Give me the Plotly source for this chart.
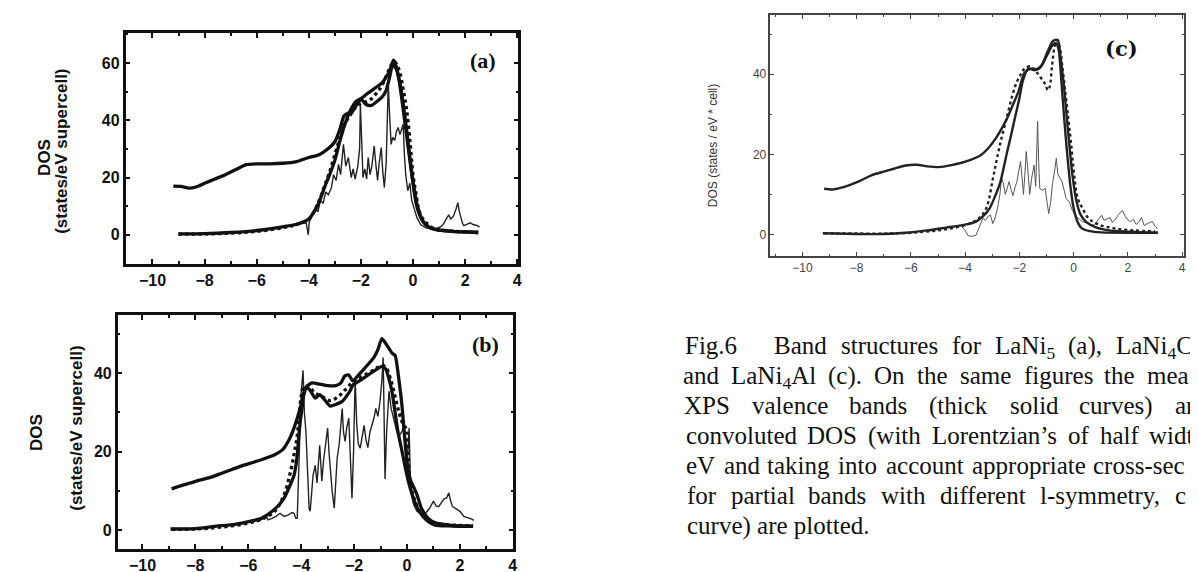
import plotly.graph_objects as go

W, H = 1198, 572

# ---------------- Panel (a) LaNi5 ----------------
a_xps_x = [-9.2,-8.9,-8.6,-8.3,-8.0,-7.6,-7.2,-6.8,-6.4,-6.0,-5.5,-5.0,-4.5,-4.0,-3.6,-3.3,-3.0,-2.8,-2.65,-2.5,-2.35,-2.2,-2.0,-1.8,-1.5,-1.2,-1.0,-0.85,-0.75,-0.62,-0.5,-0.38,-0.25,-0.12,0.0,0.12,0.25,0.4,0.6,0.9,1.5,2.0,2.5]
a_xps_y = [17.0,16.9,16.3,16.8,18.0,19.5,21.0,22.8,24.5,24.8,24.8,25.0,25.5,27.0,28.0,29.8,32.5,37.0,41.5,42.5,42.8,45.0,47.5,49.0,51.0,53.0,55.5,58.5,61.0,58.0,52.0,44.0,35.0,26.0,18.0,11.0,7.0,4.5,2.8,1.8,1.2,1.0,0.8]

a_conv_x = [-9.0,-8.0,-7.0,-6.0,-5.0,-4.5,-4.0,-3.8,-3.6,-3.4,-3.2,-3.0,-2.8,-2.6,-2.4,-2.2,-2.0,-1.8,-1.6,-1.4,-1.2,-1.05,-0.9,-0.78,-0.65,-0.5,-0.38,-0.25,-0.12,0.0,0.12,0.25,0.4,0.6,0.9,1.5,2.0,2.5]
a_conv_y = [0.3,0.4,0.8,1.5,2.8,3.6,5.5,8.0,11.5,16.5,21.0,26.0,33.0,39.0,43.5,46.5,47.5,45.5,45.2,46.5,48.0,50.0,55.0,59.5,58.0,53.0,46.0,37.0,27.0,18.5,12.0,7.5,4.5,2.8,1.8,1.2,1.0,0.8]

a_dot_x = [-9.0,-8.0,-7.0,-6.0,-5.0,-4.5,-4.0,-3.8,-3.6,-3.4,-3.2,-3.0,-2.8,-2.6,-2.4,-2.2,-2.0,-1.8,-1.6,-1.4,-1.2,-1.0,-0.85,-0.72,-0.6,-0.5,-0.38,-0.25,-0.12,0.0,0.12,0.23,0.38,0.5,0.8,1.2,2.0,2.5]
a_dot_y = [0.2,0.3,0.6,1.2,2.5,3.5,5.5,8.0,12.0,17.0,22.0,28.0,34.0,39.0,42.0,44.5,46.0,46.5,47.5,49.5,52.0,56.0,59.0,60.5,59.0,56.5,51.0,44.0,33.0,21.0,14.0,8.5,5.5,4.2,2.2,1.5,1.0,0.8]

a_dos_x = [-4.6,-4.3,-4.1,-4.02,-3.98,-3.85,-3.75,-3.65,-3.55,-3.45,-3.35,-3.25,-3.13,-3.05,-2.95,-2.86,-2.78,-2.67,-2.58,-2.48,-2.37,-2.3,-2.22,-2.12,-2.05,-2.02,-1.97,-1.92,-1.85,-1.78,-1.72,-1.65,-1.58,-1.49,-1.42,-1.36,-1.3,-1.22,-1.16,-1.1,-1.03,-0.98,-0.95,-0.9,-0.84,-0.78,-0.7,-0.64,-0.57,-0.5,-0.44,-0.38,-0.33,-0.28,-0.2,-0.12,-0.05,0.05,0.15,0.3,0.5,0.7,0.9,1.05,1.15,1.27,1.37,1.45,1.55,1.65,1.72,1.78,1.83,1.9,1.95,2.05,2.2,2.3,2.4,2.48,2.55]
a_dos_y = [3.3,4.0,4.2,0.0,4.5,7.0,9.0,8.0,12.0,11.0,15.0,14.0,16.5,21.0,19.0,24.6,21.0,31.6,24.0,27.0,20.0,23.0,19.5,24.0,30.0,45.6,33.0,20.0,23.0,19.5,27.0,21.0,24.0,31.0,24.0,19.0,25.0,30.5,22.0,16.5,25.0,40.0,53.0,42.0,31.6,34.0,33.0,36.0,37.5,35.0,37.0,38.6,28.0,21.0,15.4,18.0,12.0,9.0,6.0,3.5,2.4,2.0,2.2,2.8,3.5,5.5,7.0,5.5,6.5,9.0,11.2,8.0,6.0,4.0,3.2,3.6,4.2,3.6,3.4,3.2,2.6]

# ---------------- Panel (b) LaNi4Cu ----------------
b_xps_x = [-8.9,-8.6,-8.2,-7.8,-7.4,-7.0,-6.6,-6.2,-5.8,-5.4,-5.0,-4.7,-4.5,-4.3,-4.15,-4.0,-3.9,-3.8,-3.6,-3.3,-3.0,-2.7,-2.5,-2.35,-2.2,-2.05,-1.9,-1.7,-1.5,-1.25,-1.1,-0.95,-0.85,-0.7,-0.55,-0.45,-0.3,-0.19,-0.08,0.0,0.12,0.25,0.38,0.55,0.8,1.1,1.6,2.0,2.5]
b_xps_y = [10.5,11.2,12.0,12.8,13.5,14.5,15.5,16.5,17.3,18.2,19.2,20.5,22.5,25.5,28.5,32.0,34.5,36.5,37.5,37.2,36.8,36.8,37.5,39.3,39.5,38.0,39.0,40.5,42.0,44.0,46.0,48.8,48.0,46.5,45.0,44.5,38.0,31.8,23.0,17.5,13.0,11.0,9.0,5.5,3.0,1.8,1.3,1.1,1.0]

b_conv_x = [-8.94,-8.0,-7.2,-6.5,-5.9,-5.5,-5.2,-4.9,-4.65,-4.45,-4.27,-4.15,-4.1,-4.03,-3.96,-3.9,-3.8,-3.65,-3.47,-3.3,-3.15,-2.9,-2.7,-2.45,-2.3,-2.15,-2.04,-1.8,-1.58,-1.25,-0.94,-0.8,-0.68,-0.57,-0.45,-0.34,-0.2,-0.08,0.05,0.2,0.38,0.57,0.8,1.06,1.6,2.0,2.45]
b_conv_y = [0.3,0.4,1.0,1.5,2.3,3.0,4.3,6.0,8.1,11.0,14.0,19.0,23.4,28.0,31.5,35.0,36.5,35.5,33.6,34.5,33.5,31.6,32.0,32.8,34.0,35.5,37.0,38.0,39.0,40.5,41.7,41.0,38.5,35.4,30.0,25.0,20.5,16.5,12.5,9.0,5.8,3.8,2.2,1.3,1.1,1.0,1.0]

b_dot_x = [-8.9,-8.0,-7.0,-6.0,-5.5,-5.0,-4.65,-4.4,-4.25,-4.15,-4.08,-4.0,-3.9,-3.7,-3.5,-3.2,-2.9,-2.6,-2.3,-2.0,-1.6,-1.2,-0.95,-0.8,-0.6,-0.45,-0.3,-0.15,-0.05,0.0,0.05,0.12,0.2,0.3,0.5,0.8,1.2,2.0,2.5]
b_dot_y = [0.2,0.3,0.8,1.8,2.8,4.8,9.0,15.0,20.0,24.0,29.0,34.0,36.5,36.5,35.0,34.0,33.0,34.0,36.0,38.0,39.5,41.0,42.0,41.5,38.0,34.0,30.0,27.0,26.0,25.0,18.0,12.0,9.5,7.5,4.5,2.5,1.6,1.2,1.1]

b_dos_x = [-5.9,-5.7,-5.55,-5.45,-5.35,-5.25,-5.1,-4.95,-4.8,-4.65,-4.5,-4.35,-4.27,-4.2,-4.15,-4.08,-4.0,-3.93,-3.88,-3.82,-3.75,-3.7,-3.66,-3.6,-3.55,-3.47,-3.4,-3.3,-3.22,-3.15,-3.08,-3.0,-2.95,-2.9,-2.83,-2.75,-2.7,-2.64,-2.56,-2.5,-2.45,-2.4,-2.34,-2.28,-2.2,-2.15,-2.08,-2.02,-1.96,-1.9,-1.84,-1.77,-1.7,-1.62,-1.55,-1.48,-1.4,-1.32,-1.25,-1.18,-1.1,-1.02,-0.95,-0.9,-0.86,-0.83,-0.77,-0.72,-0.68,-0.6,-0.52,-0.45,-0.38,-0.3,-0.2,-0.11,-0.05,0.0,0.05,0.08,0.12,0.17,0.25,0.38,0.55,0.7,0.85,1.0,1.1,1.2,1.3,1.4,1.5,1.58,1.65,1.72,1.85,2.0,2.15,2.3,2.45,2.53]
b_dos_y = [2.2,2.5,2.5,3.5,3.8,2.6,3.0,3.5,4.3,3.5,3.8,4.5,4.3,3.0,3.0,20.0,35.0,40.7,30.0,25.0,12.0,5.5,4.8,10.0,14.0,16.5,12.0,21.6,12.5,18.0,22.0,26.0,20.0,15.0,10.0,5.6,12.0,18.3,22.0,27.0,31.0,25.0,22.6,26.0,28.5,20.0,8.1,20.0,38.7,27.0,22.0,20.9,24.0,26.7,23.0,21.0,25.0,27.0,28.5,31.0,29.0,32.8,38.0,44.0,25.0,13.0,25.0,33.0,35.4,31.0,29.0,27.0,25.0,24.0,25.0,26.7,20.0,16.0,22.0,26.0,15.0,9.0,6.5,4.8,4.0,4.3,5.5,7.4,6.2,6.0,7.0,8.0,8.2,9.5,7.5,6.0,5.5,4.8,3.5,3.2,2.8,2.5]

# ---------------- Panel (c) LaNi4Al ----------------
c_xps_x = [-9.2,-8.9,-8.6,-8.29,-7.9,-7.46,-7.0,-6.63,-6.2,-5.79,-5.4,-4.96,-4.5,-4.13,-3.8,-3.43,-3.15,-2.88,-2.65,-2.46,-2.25,-2.04,-1.83,-1.65,-1.49,-1.35,-1.21,-1.07,-0.92,-0.79,-0.68,-0.58,-0.48,-0.375,-0.27,-0.17,-0.05,0.11,0.25,0.46,0.8,1.29,2.0,2.6,3.1]
c_xps_y = [11.4,11.2,11.6,12.25,13.3,14.75,15.7,16.4,17.2,17.4,17.0,16.8,17.3,17.9,18.6,19.75,21.5,23.9,26.5,28.9,32.2,35.6,40.2,41.2,41.4,41.2,41.8,43.9,46.3,48.1,48.6,48.5,44.0,38.1,30.5,23.1,15.0,8.1,5.0,3.1,1.8,1.0,0.7,0.5,0.4]

c_conv_x = [-9.25,-8.0,-7.0,-6.2,-5.4,-4.7,-4.1,-3.6,-3.3,-3.1,-2.9,-2.7,-2.45,-2.3,-2.17,-2.0,-1.88,-1.67,-1.45,-1.3,-1.15,-1.0,-0.85,-0.78,-0.65,-0.55,-0.45,-0.35,-0.25,-0.12,0.0,0.15,0.3,0.6,1.0,2.0,3.1]
c_conv_y = [0.3,0.1,0.1,0.4,1.0,1.7,2.3,3.2,4.8,6.5,9.5,13.2,20.7,25.0,29.0,34.0,38.2,41.5,41.0,41.5,42.5,44.5,46.5,47.3,47.8,46.0,38.0,29.0,21.0,12.0,6.5,3.0,1.5,0.8,0.5,0.4,0.4]

c_dot_x = [-9.2,-7.0,-6.0,-5.0,-4.3,-3.8,-3.5,-3.3,-3.15,-3.0,-2.9,-2.8,-2.7,-2.55,-2.4,-2.25,-2.1,-1.95,-1.8,-1.6,-1.45,-1.3,-1.15,-1.05,-0.95,-0.88,-0.8,-0.7,-0.62,-0.52,-0.42,-0.3,-0.2,-0.1,0.0,0.15,0.33,0.55,0.9,1.5,2.2,3.0]
c_dot_y = [0.3,0.2,0.4,1.0,1.8,2.8,4.0,5.5,8.0,13.2,16.5,19.8,23.0,27.0,31.0,35.0,38.0,40.0,41.5,42.0,41.0,40.0,38.5,37.5,36.0,37.0,42.0,47.0,48.5,47.0,42.0,35.0,29.0,23.0,16.0,9.0,6.5,4.0,2.5,1.5,1.0,0.8]

c_dos_x = [-4.13,-4.0,-3.9,-3.75,-3.6,-3.45,-3.35,-3.25,-3.15,-3.07,-2.98,-2.88,-2.8,-2.72,-2.66,-2.6,-2.52,-2.45,-2.38,-2.3,-2.24,-2.15,-2.1,-2.02,-1.96,-1.9,-1.85,-1.8,-1.75,-1.7,-1.62,-1.55,-1.46,-1.4,-1.36,-1.33,-1.29,-1.25,-1.15,-1.05,-0.98,-0.92,-0.85,-0.78,-0.7,-0.64,-0.58,-0.5,-0.43,-0.35,-0.28,-0.15,-0.05,0.05,0.2,0.33,0.55,0.76,0.9,1.03,1.12,1.2,1.34,1.42,1.55,1.65,1.8,1.9,2.0,2.1,2.2,2.3,2.4,2.5,2.6,2.75,2.9,3.0,3.1]
c_dos_y = [2.0,1.0,-0.3,-0.5,-0.2,2.5,4.0,3.5,4.5,4.8,2.7,4.5,6.8,10.0,14.0,13.0,10.0,11.5,13.2,11.0,9.7,12.0,13.0,16.0,18.2,14.0,10.0,15.0,20.7,17.0,10.0,14.0,17.3,12.0,20.0,28.2,18.0,11.5,11.0,11.5,8.0,5.2,8.0,12.7,16.0,19.0,15.0,14.0,13.2,11.0,9.0,8.0,6.0,4.8,3.8,3.2,2.6,2.3,3.5,4.8,3.5,3.8,4.2,3.0,3.8,5.0,6.0,4.5,3.5,3.2,3.8,2.5,3.0,4.2,2.2,2.8,3.2,2.0,1.5]

x_ticks = [-10, -8, -6, -4, -2, 0, 2, 4]
a_y_ticks = [0, 20, 40, 60]
bc_y_ticks = [0, 20, 40]

fig = go.Figure()

def add_panel(xa, ya, xps, conv, dot, dos, thick, thin, col, thincol):
    fig.add_trace(go.Scatter(x=dos[0], y=dos[1], mode="lines", xaxis=xa, yaxis=ya,
                             line=dict(color=thincol, width=thin), showlegend=False))
    fig.add_trace(go.Scatter(x=dot[0], y=dot[1], mode="lines", xaxis=xa, yaxis=ya,
                             line=dict(color=col, width=thick, dash="dot", shape="spline"), showlegend=False))
    fig.add_trace(go.Scatter(x=conv[0], y=conv[1], mode="lines", xaxis=xa, yaxis=ya,
                             line=dict(color=col, width=thick, shape="spline", smoothing=0.6), showlegend=False))
    fig.add_trace(go.Scatter(x=xps[0], y=xps[1], mode="lines", xaxis=xa, yaxis=ya,
                             line=dict(color=col, width=thick, shape="spline", smoothing=0.6), showlegend=False))

add_panel("x", "y", (a_xps_x, a_xps_y), (a_conv_x, a_conv_y), (a_dot_x, a_dot_y), (a_dos_x, a_dos_y), 3.3, 1.4, "#111", "#222")
add_panel("x2", "y2", (b_xps_x, b_xps_y), (b_conv_x, b_conv_y), (b_dot_x, b_dot_y), (b_dos_x, b_dos_y), 3.3, 1.4, "#111", "#222")
add_panel("x3", "y3", (c_xps_x, c_xps_y), (c_conv_x, c_conv_y), (c_dot_x, c_dot_y), (c_dos_x, c_dos_y), 2.4, 1.0, "#222", "#555")

def px_dom(a, b, total):
    return [a / total, b / total]

def py_dom(top, bottom):
    return [1 - bottom / H, 1 - top / H]

bold_tick = dict(family="Liberation Sans, Arial", size=16, color="#111", weight="bold")
thin_tick = dict(family="Liberation Sans, Arial", size=12, color="#444")

common_ab = dict(showgrid=False, zeroline=False, showline=True, linecolor="#111", linewidth=2.5,
                 mirror="allticks", ticks="inside", ticklen=5, tickwidth=1.5, tickcolor="#111",
                 tickfont=bold_tick)
common_c = dict(showgrid=False, zeroline=False, showline=True, linecolor="#444", linewidth=1.5,
                mirror="allticks", ticks="inside", ticklen=4, tickwidth=1, tickcolor="#444",
                tickfont=thin_tick)

fig.update_layout(
    width=W, height=H, margin=dict(l=0, r=0, t=0, b=0),
    paper_bgcolor="white", plot_bgcolor="white", showlegend=False,
    xaxis=dict(domain=px_dom(118, 512, W), range=[-11.03, 4.04], tickvals=x_ticks, anchor="y",
               minor=dict(ticks="inside", dtick=1, tick0=0, ticklen=3, tickcolor="#111"), **common_ab),
    yaxis=dict(domain=py_dom(25, 256), range=[-10.2, 70.5], tickvals=a_y_ticks, anchor="x",
               minor=dict(ticks="inside", dtick=10, tick0=0, ticklen=3, tickcolor="#111"), **common_ab),
    xaxis2=dict(domain=px_dom(110, 507, W), range=[-10.94, 4.02], tickvals=x_ticks, anchor="y2",
                minor=dict(ticks="inside", dtick=1, tick0=0, ticklen=3, tickcolor="#111"), **common_ab),
    yaxis2=dict(domain=py_dom(307, 541), range=[-4.8, 54.8], tickvals=bc_y_ticks, anchor="x2",
                minor=dict(ticks="inside", dtick=10, tick0=0, ticklen=3, tickcolor="#111"), **common_ab),
    xaxis3=dict(domain=px_dom(765, 1180, W), range=[-11.18, 4.07], tickvals=x_ticks, anchor="y3",
                minor=dict(ticks="inside", dtick=1, tick0=0, ticklen=2, tickcolor="#444"), **common_c),
    yaxis3=dict(domain=py_dom(7, 248), range=[-5.4, 54.8], tickvals=bc_y_ticks, anchor="x3",
                minor=dict(ticks="inside", dtick=10, tick0=0, ticklen=2, tickcolor="#444"), **common_c),
)

ann = []
title_font = dict(family="Liberation Sans, Arial", size=17, color="#111", weight="bold")
# y-axis titles (a), (b)
for (xp, yp, txt) in [(37, 149, "DOS"), (53, 143, "(states/eV supercell)"),
                      (28, 424, "DOS"), (68, 420, "(states/eV supercell)")]:
    ann.append(dict(x=xp / W, y=1 - yp / H, xref="paper", yref="paper", text=txt, textangle=-90,
                    showarrow=False, xanchor="center", yanchor="middle", font=title_font))
# y-axis title (c)
ann.append(dict(x=707 / W, y=22.2, xref="paper", yref="y3", text="DOS (states / eV * cell)", textangle=-90,
                showarrow=False, xanchor="center", yanchor="middle",
                font=dict(family="Liberation Sans, Arial", size=12, color="#333")))
# panel labels
panel_font = dict(family="Liberation Serif, Times New Roman", size=22, color="#111", weight="bold")
ann.append(dict(x=2.67, y=61, xref="x", yref="y", text="(a)", showarrow=False, font=panel_font))
ann.append(dict(x=2.98, y=47.3, xref="x2", yref="y2", text="(b)", showarrow=False, font=panel_font))
ann.append(dict(x=1.78, y=46.4, xref="x3", yref="y3", text="(c)", showarrow=False,
                font=dict(family="DejaVu Serif, Liberation Serif", size=21, color="#111", weight="bold")))

# caption (justified text, placed word by word; right side is cut by the page edge)
cap_words = [
    ["Fig.6", "Band", "structures", "for", "LaNi<sub>5</sub>", "(a),", "LaNi<sub>4</sub>C"],
    ["and", "LaNi<sub>4</sub>Al", "(c).", "On", "the", "same", "figures", "the", "mea"],
    ["XPS", "valence", "bands", "(thick", "solid", "curves)", "an"],
    ["convoluted", "DOS", "(with", "Lorentzian\u2019s", "of", "half", "widt"],
    ["eV", "and", "taking", "into", "account", "appropriate", "cross-sec"],
    ["for", "partial", "bands", "with", "different", "l-symmetry,", "c"],
    ["curve) are plotted."],
]
cap_x = [
    [678, 768, 835, 946, 989, 1063, 1111],
    [676, 724, 822, 868, 911, 954, 1018, 1099, 1142],
    [677, 745, 843, 923, 1004, 1074, 1170],
    [679, 801, 862, 926, 1063, 1095, 1144],
    [679, 717, 761, 832, 880, 966, 1088],
    [680, 724, 802, 875, 934, 1034, 1170],
    [680],
]
cap_base = [345, 375, 405, 435, 465, 495, 525]
cap_font = dict(family="Liberation Serif, Times New Roman", size=25, color="#111")
for words, xs, base in zip(cap_words, cap_x, cap_base):
    for wtxt, xp in zip(words, xs):
        ann.append(dict(x=xp / W, y=1 - (base - 22) / H, xref="paper", yref="paper", text=wtxt,
                        showarrow=False, xanchor="left", yanchor="top", font=cap_font,
                        borderpad=0))

fig.update_layout(annotations=ann)
fig.write_html("out.html")
